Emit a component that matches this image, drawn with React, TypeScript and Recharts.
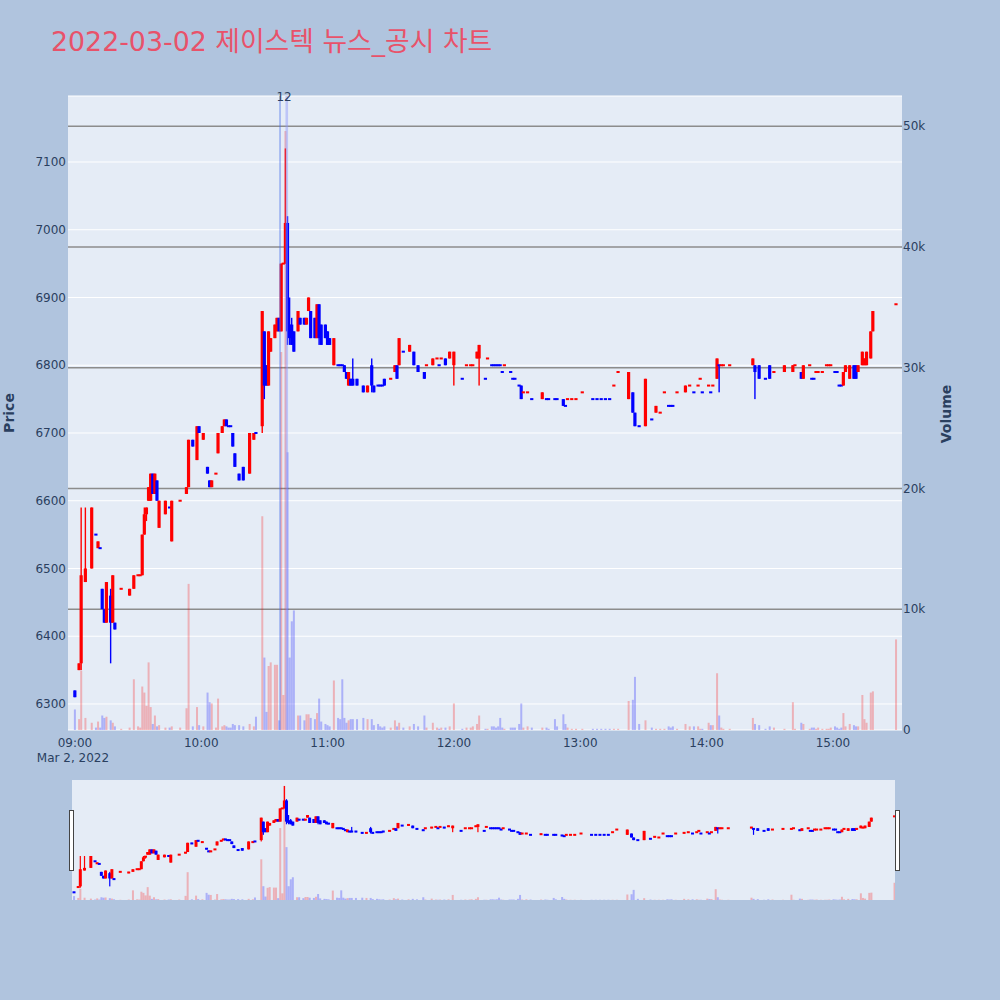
import React from 'react';
import { ComposedChart, Bar, XAxis, YAxis, ReferenceLine, CartesianGrid } from 'recharts';

// [minute after 09:00, open, high, low, close, volume, direction (1 = up/red, 0 = down/blue)]
type Candle = [number, number, number, number, number, number, number];

const hour09: Candle[] = [
  [0, 6320, 6320, 6310, 6310, 1700, 0],
  [2, 6350, 6360, 6350, 6360, 900, 1],
  [3, 6360, 6590, 6350, 6490, 4900, 1],
  [5, 6480, 6590, 6480, 6500, 1000, 1],
  [8, 6500, 6590, 6500, 6590, 600, 1],
  [10, 6550, 6550, 6550, 6550, 200, 0],
  [11, 6530, 6540, 6530, 6540, 700, 1],
  [12, 6530, 6530, 6530, 6530, 200, 0],
  [13, 6470, 6470, 6440, 6440, 1200, 0],
  [14, 6440, 6440, 6420, 6420, 1000, 0],
  [15, 6420, 6480, 6420, 6480, 1100, 1],
  [17, 6460, 6470, 6360, 6420, 800, 0],
  [18, 6420, 6490, 6420, 6490, 600, 1],
  [19, 6420, 6420, 6410, 6410, 300, 0],
  [22, 6470, 6470, 6470, 6470, 100, 1],
  [26, 6460, 6470, 6460, 6470, 200, 1],
  [28, 6470, 6490, 6470, 6490, 4200, 1],
  [30, 6490, 6490, 6490, 6490, 300, 1],
  [31, 6490, 6490, 6490, 6490, 200, 1],
  [32, 6490, 6550, 6490, 6550, 3600, 1],
  [33, 6550, 6590, 6550, 6580, 3100, 1],
  [34, 6580, 6590, 6570, 6590, 2000, 1],
  [35, 6600, 6620, 6600, 6620, 5600, 1],
  [36, 6600, 6640, 6600, 6640, 1900, 1],
  [37, 6640, 6640, 6610, 6610, 500, 0],
  [38, 6610, 6640, 6610, 6640, 1200, 1],
  [39, 6630, 6630, 6600, 6600, 300, 0],
  [40, 6560, 6600, 6560, 6600, 400, 1],
  [43, 6580, 6600, 6580, 6600, 200, 1],
  [45, 6590, 6590, 6590, 6590, 200, 0],
  [46, 6540, 6600, 6540, 6600, 300, 1],
  [50, 6600, 6600, 6600, 6600, 200, 1],
  [53, 6610, 6620, 6610, 6620, 1800, 1],
  [54, 6620, 6690, 6620, 6690, 12100, 1],
  [56, 6690, 6690, 6680, 6680, 300, 0],
  [58, 6660, 6710, 6660, 6710, 1900, 1],
  [59, 6710, 6710, 6700, 6700, 400, 0],
];

const hour10: Candle[] = [
  [61, 6690, 6700, 6690, 6700, 300, 1],
  [63, 6650, 6650, 6640, 6640, 3100, 0],
  [64, 6630, 6630, 6620, 6620, 2300, 0],
  [65, 6620, 6630, 6620, 6630, 2200, 1],
  [67, 6640, 6640, 6640, 6640, 200, 1],
  [68, 6670, 6700, 6670, 6700, 2600, 1],
  [70, 6700, 6710, 6700, 6710, 300, 1],
  [71, 6710, 6720, 6710, 6720, 400, 1],
  [72, 6720, 6720, 6710, 6710, 300, 0],
  [73, 6710, 6710, 6710, 6710, 200, 0],
  [74, 6710, 6710, 6710, 6710, 200, 0],
  [75, 6700, 6700, 6680, 6680, 500, 0],
  [76, 6670, 6670, 6650, 6650, 400, 0],
  [78, 6640, 6640, 6630, 6630, 400, 0],
  [80, 6650, 6650, 6630, 6630, 300, 0],
  [83, 6640, 6700, 6640, 6700, 500, 1],
  [85, 6690, 6700, 6690, 6700, 300, 1],
  [86, 6700, 6700, 6700, 6700, 1100, 0],
  [89, 6710, 6880, 6700, 6880, 17700, 1],
  [90, 6850, 6850, 6750, 6770, 6000, 0],
  [91, 6800, 6800, 6770, 6770, 1500, 0],
  [92, 6770, 6850, 6770, 6850, 5300, 1],
  [93, 6820, 6840, 6820, 6840, 5600, 1],
  [95, 6840, 6860, 6840, 6860, 5400, 1],
  [96, 6850, 6870, 6850, 6870, 5400, 1],
  [97, 6870, 6870, 6850, 6850, 800, 0],
  [98, 6850, 6950, 6850, 6950, 31300, 1],
  [99, 6950, 6950, 6950, 6950, 2900, 1],
  [100, 6950, 7120, 6950, 7010, 49600, 1],
  [101, 7010, 7020, 6830, 6850, 23000, 0],
  [102, 6860, 6900, 6830, 6840, 6000, 0],
  [103, 6860, 6870, 6830, 6830, 9000, 0],
  [104, 6850, 6850, 6820, 6820, 9900, 0],
  [106, 6850, 6880, 6850, 6880, 1200, 1],
  [107, 6870, 6870, 6860, 6860, 1200, 0],
  [109, 6870, 6870, 6860, 6860, 800, 0],
  [110, 6860, 6870, 6860, 6870, 1300, 1],
  [111, 6880, 6900, 6880, 6900, 1300, 1],
  [112, 6880, 6880, 6840, 6840, 1000, 0],
  [114, 6870, 6870, 6840, 6840, 900, 0],
  [115, 6840, 6890, 6840, 6890, 1400, 1],
  [116, 6890, 6890, 6830, 6840, 2600, 0],
  [117, 6860, 6860, 6830, 6830, 700, 0],
  [119, 6860, 6860, 6840, 6840, 500, 0],
];

const hour11: Candle[] = [
  [120, 6850, 6850, 6830, 6830, 400, 0],
  [121, 6840, 6840, 6830, 6830, 300, 0],
  [123, 6800, 6840, 6800, 6840, 4100, 1],
  [125, 6800, 6800, 6800, 6800, 1000, 0],
  [126, 6800, 6800, 6800, 6800, 900, 0],
  [127, 6800, 6800, 6800, 6800, 4200, 0],
  [128, 6800, 6800, 6790, 6790, 1000, 0],
  [129, 6790, 6790, 6780, 6780, 600, 0],
  [130, 6770, 6790, 6770, 6790, 800, 1],
  [131, 6780, 6780, 6770, 6770, 900, 0],
  [132, 6780, 6810, 6770, 6770, 900, 0],
  [134, 6780, 6780, 6770, 6770, 900, 0],
  [137, 6770, 6770, 6760, 6760, 1000, 0],
  [139, 6760, 6770, 6760, 6770, 900, 1],
  [141, 6800, 6810, 6760, 6770, 900, 0],
  [142, 6770, 6770, 6760, 6760, 400, 0],
  [144, 6770, 6770, 6770, 6770, 500, 0],
  [145, 6770, 6770, 6770, 6770, 300, 0],
  [146, 6770, 6770, 6770, 6770, 200, 0],
  [147, 6780, 6780, 6770, 6770, 300, 0],
  [150, 6780, 6780, 6780, 6780, 200, 1],
  [152, 6790, 6800, 6790, 6800, 800, 1],
  [153, 6800, 6800, 6780, 6780, 300, 0],
  [154, 6800, 6840, 6800, 6840, 600, 1],
  [156, 6820, 6820, 6820, 6820, 200, 0],
  [159, 6820, 6830, 6820, 6830, 300, 1],
  [161, 6820, 6820, 6800, 6800, 500, 0],
  [163, 6800, 6800, 6790, 6790, 300, 0],
  [166, 6790, 6790, 6780, 6780, 1200, 0],
  [167, 6800, 6800, 6800, 6800, 200, 1],
  [170, 6800, 6810, 6800, 6810, 600, 1],
  [172, 6810, 6810, 6810, 6810, 200, 1],
  [173, 6800, 6800, 6800, 6800, 100, 0],
  [174, 6810, 6810, 6810, 6810, 200, 1],
  [176, 6810, 6810, 6800, 6800, 200, 0],
  [178, 6810, 6820, 6810, 6820, 300, 1],
];

const hour12: Candle[] = [
  [180, 6800, 6820, 6770, 6820, 2200, 1],
  [184, 6780, 6780, 6780, 6780, 100, 0],
  [186, 6800, 6800, 6800, 6800, 200, 1],
  [188, 6800, 6800, 6800, 6800, 200, 1],
  [189, 6800, 6800, 6800, 6800, 300, 1],
  [191, 6810, 6820, 6810, 6820, 500, 1],
  [192, 6810, 6830, 6770, 6830, 1200, 1],
  [195, 6780, 6780, 6780, 6780, 100, 0],
  [196, 6810, 6810, 6810, 6810, 100, 1],
  [198, 6800, 6800, 6800, 6800, 300, 0],
  [199, 6800, 6800, 6800, 6800, 300, 0],
  [200, 6800, 6800, 6800, 6800, 200, 0],
  [201, 6800, 6800, 6800, 6800, 300, 0],
  [202, 6800, 6800, 6800, 6800, 1000, 0],
  [203, 6790, 6790, 6790, 6790, 200, 0],
  [204, 6800, 6800, 6800, 6800, 100, 1],
  [207, 6790, 6790, 6790, 6790, 200, 0],
  [208, 6780, 6780, 6780, 6780, 200, 0],
  [209, 6780, 6780, 6780, 6780, 200, 0],
  [211, 6770, 6770, 6770, 6770, 500, 0],
  [212, 6770, 6770, 6750, 6750, 2200, 0],
  [213, 6760, 6760, 6760, 6760, 200, 1],
  [215, 6760, 6760, 6760, 6760, 300, 1],
  [217, 6750, 6750, 6750, 6750, 200, 0],
  [222, 6750, 6760, 6750, 6760, 200, 1],
  [224, 6750, 6750, 6750, 6750, 200, 0],
  [225, 6750, 6750, 6750, 6750, 100, 0],
  [228, 6750, 6750, 6750, 6750, 900, 0],
  [229, 6750, 6750, 6750, 6750, 300, 0],
  [232, 6750, 6750, 6740, 6740, 1300, 0],
  [233, 6740, 6740, 6740, 6740, 500, 0],
  [234, 6750, 6750, 6750, 6750, 200, 1],
  [236, 6750, 6750, 6750, 6750, 100, 1],
  [238, 6750, 6750, 6750, 6750, 100, 1],
];

const hour13: Candle[] = [
  [241, 6760, 6760, 6760, 6760, 100, 1],
  [246, 6750, 6750, 6750, 6750, 100, 0],
  [248, 6750, 6750, 6750, 6750, 100, 0],
  [250, 6750, 6750, 6750, 6750, 100, 0],
  [252, 6750, 6750, 6750, 6750, 100, 0],
  [254, 6750, 6750, 6750, 6750, 100, 0],
  [256, 6770, 6770, 6770, 6770, 100, 1],
  [258, 6790, 6790, 6790, 6790, 100, 1],
  [263, 6750, 6790, 6750, 6790, 2400, 1],
  [265, 6760, 6760, 6730, 6730, 2500, 0],
  [266, 6730, 6730, 6710, 6710, 4400, 0],
  [268, 6710, 6710, 6710, 6710, 500, 0],
  [271, 6710, 6780, 6710, 6780, 800, 1],
  [274, 6720, 6720, 6720, 6720, 200, 0],
  [276, 6730, 6740, 6730, 6740, 100, 1],
  [278, 6730, 6730, 6730, 6730, 100, 1],
  [280, 6760, 6760, 6760, 6760, 100, 1],
  [282, 6740, 6740, 6740, 6740, 300, 0],
  [283, 6740, 6740, 6740, 6740, 200, 0],
  [284, 6740, 6740, 6740, 6740, 300, 0],
  [286, 6760, 6760, 6760, 6760, 100, 1],
  [290, 6760, 6770, 6760, 6770, 500, 1],
  [292, 6770, 6770, 6770, 6770, 300, 1],
  [294, 6760, 6760, 6760, 6760, 300, 0],
  [296, 6770, 6770, 6770, 6770, 300, 1],
  [297, 6780, 6780, 6780, 6780, 100, 1],
  [298, 6760, 6760, 6760, 6760, 100, 0],
];

const hour14: Candle[] = [
  [301, 6770, 6770, 6770, 6770, 600, 1],
  [302, 6760, 6760, 6760, 6760, 400, 0],
  [303, 6770, 6770, 6770, 6770, 400, 1],
  [305, 6780, 6810, 6780, 6810, 4700, 1],
  [306, 6800, 6800, 6760, 6800, 1200, 0],
  [307, 6800, 6800, 6800, 6800, 200, 1],
  [308, 6800, 6800, 6800, 6800, 100, 1],
  [311, 6800, 6800, 6800, 6800, 100, 1],
  [322, 6800, 6810, 6800, 6810, 1000, 1],
  [323, 6800, 6800, 6750, 6790, 500, 0],
  [325, 6800, 6800, 6780, 6780, 400, 0],
  [328, 6780, 6780, 6780, 6780, 100, 0],
  [330, 6800, 6800, 6780, 6780, 300, 0],
  [332, 6790, 6790, 6790, 6790, 200, 1],
  [337, 6790, 6800, 6790, 6800, 100, 1],
  [341, 6790, 6800, 6790, 6800, 2300, 1],
  [342, 6800, 6800, 6800, 6800, 100, 1],
  [345, 6790, 6790, 6780, 6780, 600, 0],
  [346, 6780, 6800, 6780, 6800, 500, 1],
  [349, 6800, 6800, 6800, 6800, 100, 1],
  [350, 6780, 6780, 6780, 6780, 200, 0],
  [351, 6780, 6780, 6780, 6780, 200, 0],
  [352, 6790, 6790, 6790, 6790, 100, 1],
  [353, 6790, 6790, 6790, 6790, 200, 1],
  [355, 6790, 6790, 6790, 6790, 100, 1],
  [357, 6800, 6800, 6800, 6800, 100, 1],
  [358, 6800, 6800, 6800, 6800, 100, 1],
  [359, 6800, 6800, 6800, 6800, 200, 1],
];

const hour15: Candle[] = [
  [361, 6790, 6790, 6790, 6790, 300, 0],
  [362, 6790, 6790, 6790, 6790, 200, 0],
  [363, 6770, 6770, 6770, 6770, 100, 0],
  [364, 6770, 6770, 6770, 6770, 200, 0],
  [365, 6770, 6790, 6770, 6790, 1400, 1],
  [366, 6790, 6800, 6790, 6800, 300, 1],
  [368, 6780, 6800, 6780, 6800, 500, 1],
  [370, 6800, 6800, 6780, 6780, 400, 0],
  [371, 6800, 6800, 6780, 6780, 300, 0],
  [372, 6790, 6800, 6790, 6800, 300, 1],
  [374, 6800, 6820, 6800, 6820, 2900, 1],
  [375, 6800, 6810, 6800, 6810, 900, 1],
  [376, 6800, 6820, 6800, 6820, 600, 1],
  [378, 6810, 6850, 6810, 6850, 3100, 1],
  [379, 6850, 6880, 6850, 6880, 3200, 1],
  [390, 6890, 6890, 6890, 6890, 7500, 1],
];

const titleText = '2022-03-02 제이스텍 뉴스_공시 차트';
const timeTickMinutes = [0, 60, 120, 180, 240, 300, 360];
const timeTickLabels = ['09:00', '10:00', '11:00', '12:00', '13:00', '14:00', '15:00'];
const dateLabel = 'Mar 2, 2022';
const priceTicks = [6300, 6400, 6500, 6600, 6700, 6800, 6900, 7000, 7100];
const volumeTicks = [0, 10000, 20000, 30000, 40000, 50000];
const volumeTickLabels = ['0', '10k', '20k', '30k', '40k', '50k'];
const newsLabel = '12';
const newsMinute = 99.3;
const newsEdgeLeft = 97.4;
const newsEdgeRight = 100.6;

const FONT = "'DejaVu Sans', 'Noto Sans CJK KR', sans-serif";
const TEXT = '#2a3f5f';
const UP = '#ff0000';
const DOWN = '#0000ff';
const VOL_UP = 'rgba(255,0,0,0.25)';
const VOL_DOWN = 'rgba(0,0,255,0.25)';

const rows = [...hour09, ...hour10, ...hour11, ...hour12, ...hour13, ...hour14, ...hour15].map(
  ([m, o, h, l, c, v, d]) => ({ m, o, h, l, c, v, up: d === 1, range: [l, h] })
);

const makeCandleShape = (bodyW: number, wickW: number) => (props: any) => {
  const { x, y, width, height, payload } = props;
  if (x == null || y == null || !payload) return <g />;
  const color = payload.up ? UP : DOWN;
  const cx = x + (width || 0) / 2;
  const hh = Math.abs(height || 0);
  const top = (height || 0) >= 0 ? y : y + height;
  const span = payload.h - payload.l;
  const k = span > 0 ? hh / span : 0;
  const yTop = top + (payload.h - Math.max(payload.o, payload.c)) * k;
  const yBot = top + (payload.h - Math.min(payload.o, payload.c)) * k;
  let bt = yTop;
  let bh = yBot - yTop;
  if (bh < 2) {
    const mid = (yTop + yBot) / 2;
    bt = mid - 1;
    bh = 2;
  }
  return (
    <g>
      {hh > 0 && <rect x={cx - wickW / 2} y={top} width={wickW} height={hh} fill={color} />}
      <rect x={cx - bodyW / 2} y={bt} width={bodyW} height={bh} fill={color} />
    </g>
  );
};

const volumeShape = (props: any) => {
  const { x, y, width, height, payload } = props;
  if (x == null || y == null || !payload || !height) return <g />;
  const cx = x + (width || 0) / 2;
  const top = height >= 0 ? y : y + height;
  return <rect x={cx - 1} y={top} width={2} height={Math.abs(height)} fill={payload.up ? VOL_UP : VOL_DOWN} />;
};

const TimeTick = (props: any) => {
  const { x, y, payload } = props;
  const i = timeTickMinutes.indexOf(payload.value);
  return (
    <g>
      <text x={x} y={y + 8.5} textAnchor="middle" fill={TEXT} fontSize={12} fontFamily={FONT}>
        {timeTickLabels[i]}
      </text>
      {i === 0 && (
        <text x={x - 2} y={y + 23.5} textAnchor="middle" fill={TEXT} fontSize={12} fontFamily={FONT}>
          {dateLabel}
        </text>
      )}
    </g>
  );
};

const mainCandle = makeCandleShape(3.2, 1.4);
const sliderCandle = makeCandleShape(3, 1.2);

export default function App() {
  return (
    <div
      style={{
        position: 'absolute',
        left: 0,
        top: 0,
        width: 1000,
        height: 1000,
        background: '#b0c4de',
        overflow: 'hidden',
        fontFamily: FONT,
      }}
    >
      <div style={{ position: 'absolute', left: 68, top: 96, width: 834, height: 634, background: '#e5ecf6' }} />
      <div style={{ position: 'absolute', left: 0, top: 0 }}>
        <ComposedChart width={1000} height={800} data={rows} margin={{ top: 96, right: 38, bottom: 30, left: 8 }}>
          <XAxis
            xAxisId="t"
            type="number"
            dataKey="m"
            domain={[-3.3, 392.8]}
            allowDataOverflow
            ticks={timeTickMinutes}
            interval={0}
            tick={<TimeTick />}
            axisLine={false}
            tickLine={false}
            height={40}
          />
          <XAxis xAxisId="tv" type="number" dataKey="m" domain={[-3.3, 392.8]} allowDataOverflow hide />
          <YAxis
            yAxisId="price"
            orientation="left"
            type="number"
            domain={[6261.6, 7197.4]}
            allowDataOverflow
            ticks={priceTicks}
            interval={0}
            width={60}
            axisLine={false}
            tickLine={false}
            tickSize={2}
            tickMargin={0}
            tick={{ fill: TEXT, fontSize: 12, fontFamily: FONT }}
          />
          <YAxis
            yAxisId="vol"
            orientation="right"
            type="number"
            domain={[0, 52500]}
            allowDataOverflow
            ticks={volumeTicks}
            interval={0}
            width={60}
            axisLine={false}
            tickLine={false}
            tickSize={1}
            tickMargin={0}
            tickFormatter={(v: number) => volumeTickLabels[volumeTicks.indexOf(v)] ?? ''}
            tick={{ fill: TEXT, fontSize: 12, fontFamily: FONT }}
          />
          <CartesianGrid xAxisId="t" yAxisId="price" vertical={false} stroke="#ffffff" strokeWidth={1} />
          <CartesianGrid
            xAxisId="t"
            yAxisId="vol"
            vertical={false}
            horizontalValues={volumeTicks.slice(1)}
            stroke="#8c8c8c"
            strokeWidth={1.5}
          />
          <ReferenceLine xAxisId="t" yAxisId="price" x={newsEdgeLeft} stroke="rgba(70,110,235,0.75)" strokeWidth={1} />
          <ReferenceLine xAxisId="t" yAxisId="price" x={newsEdgeRight} stroke="rgba(140,150,250,0.45)" strokeWidth={2.6} />
          <ReferenceLine
            xAxisId="t"
            yAxisId="price"
            x={newsMinute}
            stroke="none"
            label={{ value: newsLabel, position: 'top', offset: -5, fill: TEXT, fontSize: 12, fontFamily: FONT }}
          />
          <Bar xAxisId="tv" yAxisId="vol" dataKey="v" barSize={2} shape={volumeShape} isAnimationActive={false} />
          <Bar xAxisId="t" yAxisId="price" dataKey="range" barSize={3} shape={mainCandle} isAnimationActive={false} />
        </ComposedChart>
      </div>

      <div style={{ position: 'absolute', left: 72, top: 780, width: 823, height: 120, background: '#e5ecf6' }} />
      <div style={{ position: 'absolute', left: 0, top: 780 }}>
        <ComposedChart width={1000} height={120} data={rows} margin={{ top: 0, right: 105, bottom: 0, left: 72 }}>
          <XAxis xAxisId="s" type="number" dataKey="m" domain={[-1, 390.2]} allowDataOverflow hide />
          <XAxis xAxisId="sv" type="number" dataKey="m" domain={[-1, 390.2]} allowDataOverflow hide />
          <YAxis yAxisId="sp" type="number" domain={[6257, 7165]} allowDataOverflow hide />
          <YAxis yAxisId="svol" type="number" domain={[0, 52200]} allowDataOverflow hide />
          <Bar xAxisId="sv" yAxisId="svol" dataKey="v" barSize={2} shape={volumeShape} isAnimationActive={false} />
          <Bar xAxisId="s" yAxisId="sp" dataKey="range" barSize={3} shape={sliderCandle} isAnimationActive={false} />
        </ComposedChart>
      </div>

      <svg
        width={1000}
        height={1000}
        style={{ position: 'absolute', left: 0, top: 0, pointerEvents: 'none' }}
      >
        <text x={51} y={51} fill="#e8526a" fontSize={26.8} fontFamily={FONT}>
          {titleText}
        </text>
        <text
          x={14}
          y={413}
          transform="rotate(-90 14 413)"
          textAnchor="middle"
          fill={TEXT}
          fontSize={14}
          fontWeight="bold"
          fontFamily={FONT}
        >
          Price
        </text>
        <text
          x={951}
          y={414}
          transform="rotate(-90 951 414)"
          textAnchor="middle"
          fill={TEXT}
          fontSize={14}
          fontWeight="bold"
          fontFamily={FONT}
        >
          Volume
        </text>
        <rect x={69.5} y={810.5} width={4} height={60} fill="#ffffff" stroke="#444" strokeWidth={1} />
        <rect x={895.5} y={810.5} width={4} height={60} fill="#ffffff" stroke="#444" strokeWidth={1} />
      </svg>
    </div>
  );
}
